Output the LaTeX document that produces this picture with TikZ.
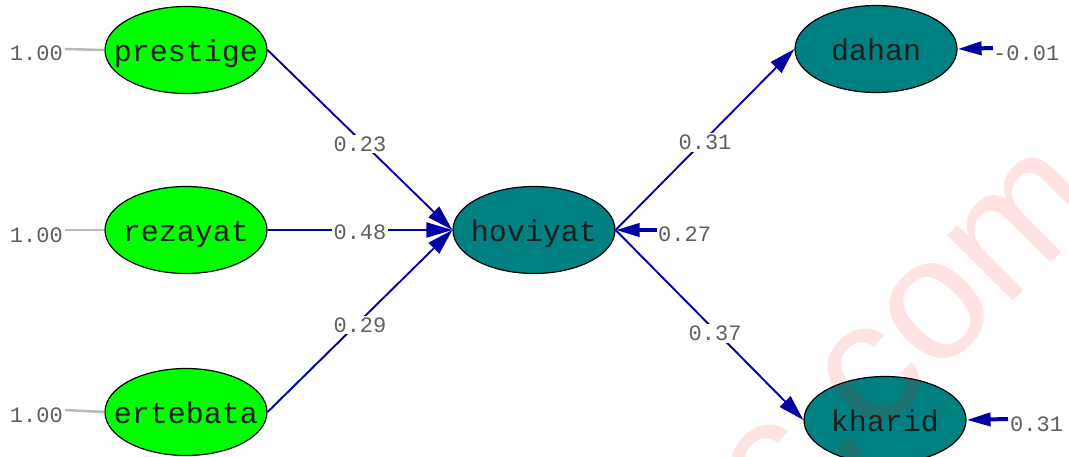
\documentclass[tikz,border=0pt]{standalone}
\usepackage{fontspec}
\setmonofont{Liberation Mono}
\newfontfamily\wmfont{Liberation Sans}
\usetikzlibrary{shapes.geometric,arrows.meta}
\definecolor{lgreen}{RGB}{0,255,0}
\definecolor{lteal}{RGB}{0,128,128}
\definecolor{pathblue}{RGB}{0,0,165}
\definecolor{lblgray}{RGB}{95,95,95}
\definecolor{fixgray}{RGB}{185,185,185}
\newcommand{\vtxt}[1]{\makebox[0pt]{\smash{\raisebox{-11pt}{#1}}}}
\tikzset{
  var/.style={ellipse, draw=black, line width=1.2pt, minimum width=162pt, minimum height=87pt,
    inner sep=0pt, font=\ttfamily\fontsize{30}{30}\selectfont, text={rgb,255:red,30;green,30;blue,30}},
  exo/.style={var, fill=lgreen},
  endo/.style={var, fill=lteal},
  pathline/.style={draw=pathblue, line width=1.9pt, -{Triangle[length=26pt,width=15pt]}},
  coef/.style={fill=white, inner sep=2pt, text=lblgray, font=\ttfamily\fontsize{22}{22}\selectfont},
  val/.style={inner sep=0pt, text=lblgray, font=\ttfamily\fontsize{22}{22}\selectfont},
  errarrow/.style={draw=pathblue, line width=4pt, -{Triangle[length=24pt,width=13pt]}},
  fixline/.style={draw=fixgray, line width=2.5pt},
}
\begin{document}
\begin{tikzpicture}[x=1pt,y=-1pt]
\useasboundingbox[fill=white] (0,0) rectangle (1069,456);
% nodes
\node[exo] (prestige) at (186,50) {\vtxt{prestige}};
\node[exo] (rezayat) at (186,230) {\vtxt{rezayat}};
\node[exo] (ertebata) at (186,412) {\vtxt{ertebata}};
\node[endo] (hoviyat) at (534,230) {\vtxt{hoviyat}};
\node[endo] (dahan) at (876,49) {\vtxt{dahan}};
\node[endo] (kharid) at (885,420) {\vtxt{kharid}};
% fixed variances
\node[val, anchor=east] (v1) at (63,53) {1.00};
\node[val, anchor=east] (v2) at (63,235) {1.00};
\node[val, anchor=east] (v3) at (63,415) {1.00};
\draw[fixline] (v1.east) ++(2,-4) coordinate (f1) (f1) -- (prestige.west);
\draw[fixline] (v2.east) ++(2,-5) coordinate (f2) (f2) -- (rezayat.west);
\draw[fixline] (v3.east) ++(2,-5) coordinate (f3) (f3) -- (ertebata.west);
% paths
\draw[pathline] (prestige.east) -- node[coef, pos=0.5, yshift=-4pt] {0.23} (hoviyat.west);
\draw[pathline] (rezayat.east) -- node[coef, pos=0.5, yshift=-2pt] {0.48} (hoviyat.west);
\draw[pathline] (ertebata.east) -- node[coef, pos=0.5, yshift=-4pt] {0.29} (hoviyat.west);
\draw[pathline] (hoviyat.east) -- node[coef, pos=0.5, yshift=-3pt] {0.31} (dahan.west);
\draw[pathline] (hoviyat.east) -- node[coef, pos=0.53, yshift=-3pt] {0.37} (kharid.west);
% error terms
\node[val, anchor=west] (e1) at (658,234) {0.27};
\node[val, anchor=west] (e2) at (993,53) {-0.01};
\node[val, anchor=west] (e3) at (1010,424) {0.31};
\coordinate (s1) at (657,230);
\coordinate (s2) at (993,48);
\coordinate (s3) at (1008,419);
\draw[errarrow] (s1) -- (hoviyat.east);
\draw[errarrow] (s2) -- (dahan.east);
\draw[errarrow] (s3) -- (kharid.east);
% watermark
\node[rotate=45, text=red, opacity=0.11, inner sep=0pt, font=\wmfont\fontsize{175}{175}\selectfont] (wm) at (910,339) {c.com};
\end{tikzpicture}
\end{document}
